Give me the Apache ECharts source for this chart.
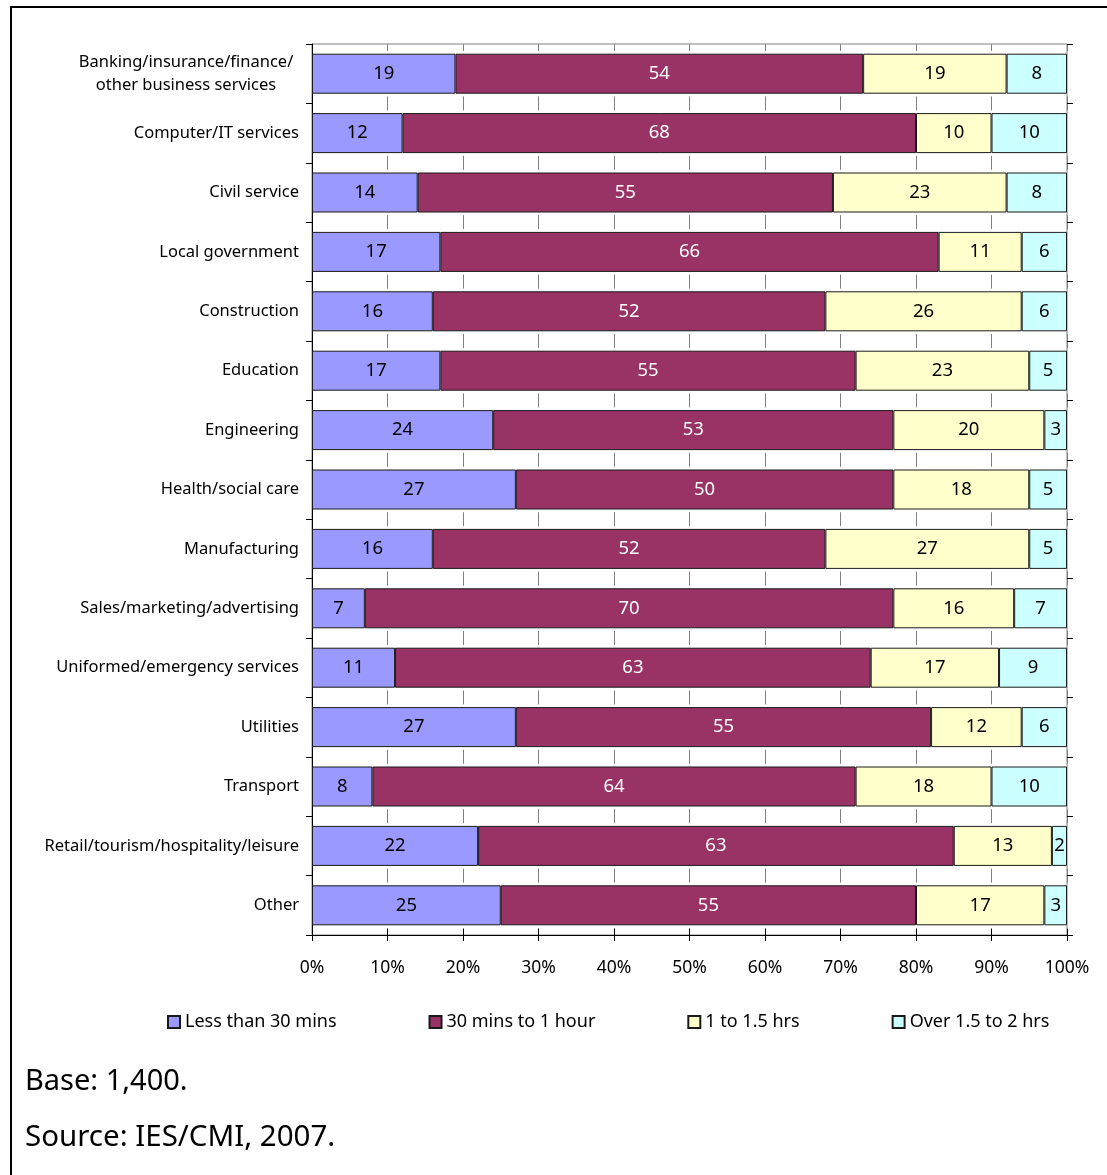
<!DOCTYPE html>
<html>
<head>
<meta charset="utf-8">
<script src="https://cdn.jsdelivr.net/npm/echarts@6/dist/echarts.min.js"></script>
<style>
  html, body { margin: 0; padding: 0; background: #fff; }
  #chart { width: 1107px; height: 1175px; }
</style>
</head>
<body>
<div id="chart"></div>
<script>
// Travel time to work by sector (% of respondents)
const categories = [
  'Banking/insurance/finance/\nother business services',
  'Computer/IT services',
  'Civil service',
  'Local government',
  'Construction',
  'Education',
  'Engineering',
  'Health/social care',
  'Manufacturing',
  'Sales/marketing/advertising',
  'Uniformed/emergency services',
  'Utilities',
  'Transport',
  'Retail/tourism/hospitality/leisure',
  'Other'
];

const seriesNames = ['Less than 30 mins', '30 mins to 1 hour', '1 to 1.5 hrs', 'Over 1.5 to 2 hrs'];

const lessThan30Mins = [19, 12, 14, 17, 16, 17, 24, 27, 16, 7, 11, 27, 8, 22, 25];
const thirtyMinsTo1Hour = [54, 68, 55, 66, 52, 55, 53, 50, 52, 70, 63, 55, 64, 63, 55];
const oneTo1HalfHrs = [19, 10, 23, 11, 26, 23, 20, 18, 27, 16, 17, 12, 18, 13, 17];
const over1HalfTo2Hrs = [8, 10, 8, 6, 6, 5, 3, 5, 5, 7, 9, 6, 10, 2, 3];

const axisMin = 0;
const axisMax = 100;
const axisStep = 10;

const footnotes = ['Base: 1,400.', 'Source: IES/CMI, 2007.'];

const FONT = '"Noto Sans", sans-serif';
const fills = ['#9999FF', '#993366', '#FFFFCC', '#CCFFFF'];
const labelColors = ['#000', '#fff', '#000', '#000'];
const values = [lessThan30Mins, thirtyMinsTo1Hour, oneTo1HalfHrs, over1HalfTo2Hrs];

const chart = echarts.init(document.getElementById('chart'), null, { renderer: 'canvas' });

const series = seriesNames.map((name, i) => ({
  name: name,
  type: 'bar',
  stack: 'total',
  barWidth: 40,
  xAxisIndex: 0,
  yAxisIndex: 0,
  data: values[i],
  itemStyle: { color: fills[i], borderColor: '#1a1a1a', borderWidth: 1 },
  emphasis: { disabled: true },
  label: {
    show: true,
    position: 'inside',
    formatter: '{c}',
    color: labelColors[i],
    fontFamily: FONT,
    fontSize: 18.5
  }
}));

const option = {
  animation: false,
  backgroundColor: '#fff',
  textStyle: { fontFamily: FONT },
  grid: {
    left: 312, top: 44, width: 755, height: 891,
    containLabel: false,
    outerBoundsMode: 'none',
    show: true,
    borderColor: '#808080',
    borderWidth: 1,
    backgroundColor: 'transparent'
  },
  legend: {
    data: seriesNames,
    left: 162,
    top: 1008,
    icon: 'rect',
    itemWidth: 12,
    itemHeight: 12,
    itemGap: 92,
    selectedMode: false,
    textStyle: { fontFamily: FONT, fontSize: 18, color: '#000', padding: [0, 0, 0, 0] }
  },
  xAxis: [
    {
      type: 'value',
      position: 'bottom',
      min: axisMin, max: axisMax, interval: axisStep,
      axisLine: { show: true, onZero: false, lineStyle: { color: '#000', width: 1 } },
      axisTick: { show: true, length: 6, lineStyle: { color: '#000' } },
      axisLabel: { formatter: '{value}%', color: '#000', fontFamily: FONT, fontSize: 17.5, margin: 24 },
      splitLine: {
        show: true,
        lineStyle: { color: '#808080', width: 1, type: [14, 45.4], dashOffset: 7 }
      }
    },
    {
      // inner half of the crossing ticks along the bottom axis
      type: 'value',
      position: 'top',
      offset: -891,
      min: axisMin, max: axisMax, interval: axisStep,
      axisLine: { show: false },
      axisTick: { show: true, length: 6, lineStyle: { color: '#000' } },
      axisLabel: { show: false },
      splitLine: { show: false }
    }
  ],
  yAxis: [
    {
      type: 'category',
      position: 'left',
      inverse: true,
      data: categories,
      axisLine: { show: true, lineStyle: { color: '#000', width: 1 } },
      axisTick: { show: true, length: 6, lineStyle: { color: '#000' } },
      axisLabel: {
        color: '#000',
        fontFamily: FONT,
        fontSize: 16.5,
        margin: 13,
        interval: 0,
        formatter: function (v) {
          if (v.indexOf('\n') < 0) return v;
          return v.split('\n').map(function (l) { return '{c|' + l + '}'; }).join('\n');
        },
        rich: {
          c: { width: 226, align: 'center', fontFamily: FONT, fontSize: 16.5, color: '#000', lineHeight: 23 }
        }
      }
    },
    {
      // inner half of the crossing ticks along the left axis
      type: 'category',
      position: 'right',
      offset: -755,
      inverse: true,
      data: categories,
      axisLine: { show: false },
      axisTick: { show: true, length: 6, lineStyle: { color: '#000' } },
      axisLabel: { show: false },
      splitLine: { show: false }
    }
  ],
  graphic: [
    {
      type: 'rect',
      silent: true,
      shape: { x: 11, y: 7, width: 1200, height: 1300 },
      style: { fill: 'none', stroke: '#000', lineWidth: 2 }
    },
    {
      type: 'text',
      left: 25,
      top: 1067,
      style: { text: footnotes[0], font: '29px "Noto Sans", sans-serif', fill: '#000' }
    },
    {
      type: 'text',
      left: 25,
      top: 1123,
      style: { text: footnotes[1], font: '29.5px "Noto Sans", sans-serif', fill: '#000' }
    }
  ],
  series: series
};

chart.setOption(option);
</script>
</body>
</html>
